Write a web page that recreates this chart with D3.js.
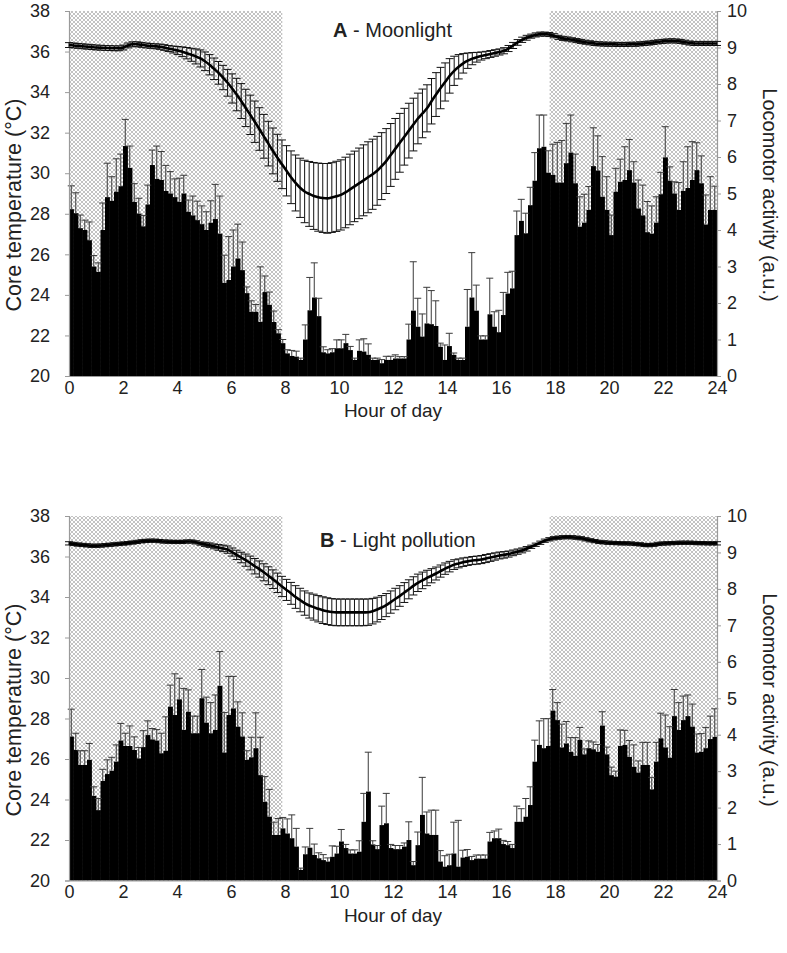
<!DOCTYPE html>
<html><head><meta charset="utf-8">
<script src="https://cdn.jsdelivr.net/npm/d3@7"></script>
<style>
body{margin:0;background:#fff}
svg{display:block}
text{font-family:Arial,"Liberation Sans",Helvetica,sans-serif;fill:#222}
</style></head>
<body><svg id="c" width="787" height="953"></svg>
<script>
// ---------- DATA ----------
// 10-minute bins (144 per day)
const binIndex = d3.range(144);
const xTicks = [0,2,4,6,8,10,12,14,16,18,20,22,24];
const tempTicks = [20,22,24,26,28,30,32,34,36,38];
const actTicks = [0,1,2,3,4,5,6,7,8,9,10];
const nightPeriods = [[0,7.9],[17.8,24]];

const actA = [4.57,4.46,4.05,4.0,3.72,3.0,2.85,4.0,4.9,4.8,5.05,5.2,
6.3,5.7,4.77,4.45,4.1,4.7,5.78,5.4,5.37,5.07,5.0,4.9,
4.77,5.0,4.5,4.4,4.27,4.16,4.0,4.2,4.3,3.9,2.55,2.63,
3.0,3.22,2.9,2.27,1.76,1.76,1.48,2.3,1.95,1.48,1.17,0.9,
0.62,0.55,0.53,0.44,1.0,1.8,2.15,1.64,0.65,0.62,0.65,0.76,
0.76,0.9,0.71,0.44,0.69,0.67,0.58,0.44,0.44,0.35,0.44,0.44,
0.48,0.48,0.48,1.0,1.79,1.35,1.08,1.44,1.42,1.37,0.8,0.44,
0.82,0.58,0.44,0.44,1.35,2.15,1.79,1.0,1.0,1.69,1.35,1.2,
1.67,2.26,2.4,3.86,4.25,3.91,4.68,5.35,6.24,6.28,5.57,5.51,
5.3,5.3,5.83,6.12,5.28,4.09,4.2,4.55,5.75,5.63,4.91,4.55,
3.86,5.05,5.32,5.37,5.64,5.3,4.59,4.4,3.94,3.9,4.2,4.98,
5.99,5.35,5.0,4.55,5.07,5.15,5.37,5.64,5.28,4.15,4.55,4.55];
const actErrA = [0.64,0.56,0.36,0.27,0.5,0.3,0.25,0.74,0.93,0.66,0.9,0.88,
0.73,0.6,0.5,0.42,0.3,0.53,0.41,0.9,0.78,0.7,0.6,0.5,
0.65,0.5,0.32,0.53,0.52,0.5,0.5,0.6,0.95,1.03,0.76,1.19,
1.0,0.94,0.77,0.17,0.3,0.2,1.51,0.44,0.35,0.3,0.1,0.1,
0.1,0.15,0.15,0.05,0.4,0.9,0.95,0.49,0.15,0.1,0.1,0.23,
0.23,0.24,0.1,0.05,0.3,0.35,0.3,0.05,0.05,0.1,0.1,0.1,
0.1,0.05,0.05,0.42,1.34,0.78,0.62,0.99,0.92,0.69,0.1,0.41,
0.35,0.05,0.05,0.05,1.02,1.23,0.7,0.1,0.1,0.99,0.41,0.6,
0.62,0.58,0.47,0.66,0.59,0.55,0.49,0.77,0.91,0.87,0.6,0.84,
1.1,1.15,1.09,1.03,0.8,0.82,0.78,0.64,1.05,0.95,1.1,0.91,
0.55,0.64,0.62,0.91,0.84,0.57,0.78,0.83,0.84,0.76,0.71,0.6,
0.84,0.38,0.32,0.75,0.8,1.13,1.05,0.75,0.75,0.81,0.91,0.65];
const tempA = [36.32,36.3,36.28,36.26,36.24,36.22,
36.2,36.19,36.18,36.17,36.16,36.16,
36.2,36.3,36.36,36.36,36.33,36.3,
36.28,36.26,36.24,36.2,36.15,36.1,
36.05,35.99,35.92,35.84,35.76,35.66,
35.52,35.35,35.15,34.95,34.72,34.46,
34.18,33.88,33.56,33.22,32.88,32.54,
32.18,31.82,31.46,31.1,30.76,30.44,
30.12,29.8,29.52,29.28,29.1,28.98,
28.88,28.82,28.78,28.76,28.8,28.86,
28.93,29.05,29.2,29.35,29.5,29.65,
29.8,29.95,30.12,30.35,30.6,30.9,
31.2,31.5,31.8,32.1,32.4,32.7,
32.95,33.2,33.55,33.88,34.2,34.5,
34.8,35.05,35.25,35.42,35.55,35.65,
35.72,35.78,35.83,35.88,35.93,35.98,
36.04,36.15,36.3,36.45,36.58,36.68,
36.76,36.82,36.86,36.86,36.84,36.78,
36.7,36.65,36.62,36.58,36.54,36.5,
36.46,36.43,36.4,36.38,36.37,36.36,
36.36,36.35,36.35,36.35,36.36,36.36,
36.38,36.4,36.42,36.45,36.48,36.5,
36.52,36.53,36.52,36.5,36.46,36.42,
36.4,36.4,36.4,36.4,36.4,36.4];
const tempErrA = [0.12,0.12,0.12,0.12,0.12,0.12,
0.12,0.12,0.12,0.12,0.12,0.12,
0.12,0.12,0.12,0.12,0.12,0.12,
0.12,0.12,0.13,0.14,0.15,0.17,
0.2,0.24,0.28,0.32,0.37,0.42,
0.46,0.5,0.53,0.56,0.6,0.66,
0.72,0.8,0.86,0.92,0.97,1.02,
1.05,1.08,1.1,1.13,1.16,1.2,
1.24,1.3,1.38,1.46,1.54,1.6,
1.65,1.68,1.7,1.72,1.72,1.73,
1.73,1.74,1.74,1.74,1.74,1.75,
1.75,1.73,1.7,1.65,1.6,1.55,
1.5,1.45,1.4,1.35,1.3,1.25,
1.2,1.16,1.12,1.08,1.02,0.94,
0.85,0.72,0.6,0.48,0.38,0.3,
0.24,0.2,0.18,0.17,0.16,0.15,
0.15,0.15,0.15,0.14,0.13,0.12,
0.1,0.1,0.1,0.1,0.1,0.1,
0.1,0.1,0.1,0.1,0.1,0.1,
0.1,0.1,0.1,0.1,0.1,0.1,
0.1,0.1,0.1,0.1,0.1,0.1,
0.1,0.1,0.1,0.1,0.1,0.1,
0.1,0.1,0.1,0.1,0.1,0.1,
0.1,0.1,0.1,0.1,0.1,0.1];

const actB = [3.95,3.58,3.17,3.17,3.31,2.32,1.93,2.73,2.92,3.01,3.26,3.84,
3.69,3.69,3.58,3.35,3.66,3.99,3.87,3.84,3.49,3.56,4.77,4.54,
4.97,4.13,4.63,4.04,4.04,5.0,4.33,4.04,4.13,5.34,3.51,4.54,
4.72,4.22,3.95,3.31,3.38,3.63,2.89,2.16,1.75,1.25,1.25,1.43,
1.29,1.16,0.93,0.29,0.72,0.9,0.7,0.61,0.56,0.52,0.65,0.74,
1.07,0.89,0.74,0.74,0.79,1.61,2.44,0.99,0.86,1.52,1.57,0.89,
0.86,0.86,0.93,1.11,0.42,0.97,1.8,1.29,1.25,1.25,0.52,0.38,
0.42,0.74,0.38,0.63,0.65,0.56,0.6,0.6,0.6,1.07,1.16,1.16,
1.0,0.97,0.89,1.61,1.61,1.75,2.07,3.26,3.72,3.63,3.69,4.66,
4.4,3.65,3.76,3.53,3.42,3.86,3.46,3.63,3.6,3.53,4.25,3.46,
2.89,2.85,3.69,3.72,3.39,3.12,2.96,3.17,3.17,2.5,3.26,3.9,
3.65,3.37,4.51,4.13,4.4,4.51,4.22,3.51,3.53,3.63,3.88,3.94];
const actErrB = [0.75,0.46,0.39,0.39,0.45,0.25,0.32,0.32,0.39,0.37,0.46,0.47,
0.35,0.55,0.36,0.3,0.45,0.39,0.3,0.3,0.55,0.93,0.59,1.13,
0.58,1.14,0.6,0.47,0.47,0.79,0.7,0.84,0.96,0.94,1.1,1.06,
0.88,0.68,0.65,0.25,0.55,0.97,1.04,0.69,0.75,0.35,0.45,0.3,
0.4,0.64,0.5,0.05,0.2,0.53,0.3,0.15,0.15,0.1,0.3,0.2,
0.33,0.1,0.1,0.1,0.3,0.78,1.08,0.1,0.1,0.52,0.82,0.1,
0.1,0.1,0.1,0.5,0.1,0.36,1.03,0.59,0.68,0.68,0.3,0.3,
0.3,0.86,1.27,0.2,0.2,0.1,0.1,0.1,0.1,0.25,0.2,0.25,
0.1,0.1,0.1,0.43,0.36,0.5,0.5,0.59,0.66,0.81,0.75,0.58,
0.48,0.64,0.6,0.39,0.5,0.34,0.15,0.2,0.2,0.2,0.38,0.2,
0.22,0.15,0.44,0.4,0.45,0.6,0.32,0.62,0.62,0.33,0.53,0.69,
0.89,0.85,0.73,0.75,0.66,0.58,0.62,0.51,0.5,0.57,0.63,0.77];
const tempB = [36.65,36.62,36.59,36.57,36.55,36.53,
36.53,36.54,36.56,36.58,36.6,36.62,
36.64,36.66,36.69,36.72,36.75,36.77,
36.78,36.78,36.76,36.74,36.73,36.72,
36.72,36.72,36.74,36.74,36.7,36.64,
36.6,36.56,36.5,36.45,36.4,36.34,
36.22,36.08,35.95,35.82,35.68,35.52,
35.38,35.22,35.05,34.88,34.7,34.52,
34.35,34.18,34.0,33.85,33.7,33.58,
33.5,33.42,33.35,33.3,33.26,33.24,
33.24,33.24,33.24,33.24,33.24,33.24,
33.25,33.3,33.38,33.48,33.6,33.75,
33.9,34.05,34.22,34.38,34.55,34.7,
34.82,34.94,35.05,35.16,35.28,35.4,
35.5,35.6,35.66,35.72,35.76,35.8,
35.82,35.85,35.9,35.95,36.0,36.05,
36.08,36.12,36.18,36.24,36.3,36.38,
36.48,36.58,36.68,36.78,36.85,36.9,
36.93,36.95,36.96,36.95,36.93,36.9,
36.85,36.8,36.76,36.72,36.7,36.68,
36.67,36.66,36.65,36.65,36.64,36.62,
36.6,36.57,36.56,36.58,36.62,36.64,
36.65,36.66,36.67,36.68,36.68,36.68,
36.67,36.66,36.66,36.65,36.65,36.65];
const tempErrB = [0.08,0.08,0.08,0.08,0.08,0.08,
0.08,0.08,0.08,0.08,0.08,0.08,
0.08,0.08,0.08,0.08,0.08,0.08,
0.08,0.08,0.08,0.08,0.08,0.08,
0.08,0.08,0.08,0.08,0.08,0.08,
0.1,0.11,0.12,0.14,0.16,0.18,
0.2,0.23,0.26,0.3,0.34,0.38,
0.4,0.42,0.44,0.46,0.48,0.5,
0.52,0.54,0.56,0.58,0.6,0.62,
0.64,0.65,0.66,0.66,0.66,0.66,
0.66,0.66,0.66,0.66,0.66,0.66,
0.65,0.63,0.61,0.59,0.57,0.55,
0.53,0.51,0.49,0.47,0.45,0.43,
0.41,0.38,0.35,0.32,0.3,0.28,
0.26,0.24,0.22,0.21,0.2,0.2,
0.2,0.2,0.2,0.19,0.18,0.17,
0.16,0.15,0.14,0.13,0.12,0.11,
0.08,0.08,0.08,0.08,0.08,0.08,
0.08,0.08,0.08,0.08,0.08,0.08,
0.08,0.08,0.08,0.08,0.08,0.08,
0.08,0.08,0.08,0.08,0.08,0.08,
0.08,0.08,0.08,0.08,0.08,0.08,
0.08,0.08,0.08,0.08,0.08,0.08,
0.08,0.08,0.08,0.08,0.08,0.08];

// ---------- DRAW ----------
const svg = d3.select('#c');
const defs = svg.append('defs');
const pat = defs.append('pattern').attr('id','hatch')
  .attr('width',4).attr('height',4).attr('patternUnits','userSpaceOnUse');
pat.append('rect').attr('width',4).attr('height',4).attr('fill','#fff');
pat.append('path').attr('d','M0,0L4,4M4,0L0,4M-1,3L1,5M3,-1L5,1M-1,1L1,-1M3,5L5,3')
  .attr('stroke','#b4b4b4').attr('stroke-width',0.8);

const X0 = 69, X1 = 717;

function panel(cfg){
  const g = svg.append('g');
  const x = d3.scaleLinear().domain([0,24]).range([X0,X1]);
  const xb = d3.scaleBand().domain(binIndex).range([X0,X1]).padding(0);
  const xt = d3.scaleLinear().domain([0,143]).range([X0,X1]);
  const yT = d3.scaleLinear().domain([20,38]).range([cfg.bottom,cfg.top]);
  const yA = d3.scaleLinear().domain([0,10]).range([cfg.bottom,cfg.top]);

  // night shading
  g.selectAll('rect.night').data(nightPeriods).join('rect').attr('class','night')
    .attr('x',d=>x(d[0])).attr('width',d=>x(d[1])-x(d[0]))
    .attr('y',cfg.top).attr('height',cfg.bottom-cfg.top)
    .attr('fill','url(#hatch)');

  // activity bars
  const bw = xb.bandwidth();
  g.selectAll('rect.bar').data(cfg.act).join('rect').attr('class','bar')
    .attr('x',(d,i)=>xb(i)).attr('width',bw+0.4)
    .attr('y',d=>yA(d)).attr('height',d=>yA(0)-yA(d))
    .attr('fill','#000');

  // activity error bars (upward only)
  const eg = g.append('g').attr('stroke','#3a3a3a').attr('stroke-width',1).attr('fill','none');
  cfg.act.forEach((v,i)=>{
    const cx = xb(i)+bw/2;
    const y1 = yA(v), y2 = yA(v+cfg.actErr[i]);
    eg.append('line').attr('x1',cx).attr('x2',cx).attr('y1',y1).attr('y2',y2);
    eg.append('line').attr('x1',cx-3.5).attr('x2',cx+3.5).attr('y1',y2).attr('y2',y2);
  });

  // axes
  const axL = g.append('g').attr('transform',`translate(${X0},0)`)
    .call(d3.axisLeft(yT).tickValues(tempTicks).tickSize(4).tickPadding(15).tickFormat(d3.format('d')));
  const axR = g.append('g').attr('transform',`translate(${X1},0)`)
    .call(d3.axisRight(yA).tickValues(actTicks).tickSize(4).tickPadding(6).tickFormat(d3.format('d')));
  const axB = g.append('g').attr('transform',`translate(0,${cfg.bottom})`)
    .call(d3.axisBottom(x).tickValues(xTicks).tickSize(0).tickPadding(5).tickFormat(d3.format('d')));
  [axL,axR,axB].forEach(a=>{
    a.selectAll('path.domain').attr('stroke','#9a9a9a').attr('stroke-width',1.2);
    a.selectAll('.tick line').attr('stroke','#9a9a9a');
    a.selectAll('.tick text').style('font-size','18px').style('fill','#222')
      .style('font-family','Arial, "Liberation Sans", sans-serif');
  });

  // temperature error bars
  const tg = g.append('g').attr('stroke','#111').attr('stroke-width',1).attr('fill','none');
  cfg.temp.forEach((v,i)=>{
    const cx = xt(i);
    const e = cfg.tempErr[i];
    const ya = yT(v+e), yb = yT(v-e);
    tg.append('line').attr('x1',cx).attr('x2',cx).attr('y1',ya).attr('y2',yb);
    tg.append('line').attr('x1',cx-4).attr('x2',cx+4).attr('y1',ya).attr('y2',ya);
    tg.append('line').attr('x1',cx-4).attr('x2',cx+4).attr('y1',yb).attr('y2',yb);
  });
  // temperature line
  g.append('path').datum(cfg.temp)
    .attr('d',d3.line().x((d,i)=>xt(i)).y(d=>yT(d)).curve(d3.curveMonotoneX))
    .attr('fill','none').attr('stroke','#000').attr('stroke-width',2.6);

  // titles
  const t = g.append('text').attr('x',cfg.titleX).attr('y',cfg.titleY).style('font-size','20px');
  t.append('tspan').style('font-weight','bold').text(cfg.letter);
  t.append('tspan').text(' - ' + cfg.name);

  g.append('text').attr('x',(X0+X1)/2).attr('y',cfg.bottom+41)
    .attr('text-anchor','middle').style('font-size','19px').text('Hour of day');
  g.append('text').attr('transform',`translate(21,${cfg.labelLY}) rotate(-90)`)
    .attr('text-anchor','middle').style('font-size','21.5px').text('Core temperature (°C)');
  g.append('text').attr('transform',`translate(763,${cfg.labelRY}) rotate(90)`)
    .attr('text-anchor','middle').style('font-size','20px').text('Locomotor activity (a.u.)');
}

panel({top:11,bottom:376,act:actA,actErr:actErrA,temp:tempA,tempErr:tempErrA,
  letter:'A',name:'Moonlight',titleX:333,titleY:37,labelLY:205,labelRY:195});
panel({top:516,bottom:880.5,act:actB,actErr:actErrB,temp:tempB,tempErr:tempErrB,
  letter:'B',name:'Light pollution',titleX:320,titleY:547,labelLY:710,labelRY:700});
</script></body></html>
